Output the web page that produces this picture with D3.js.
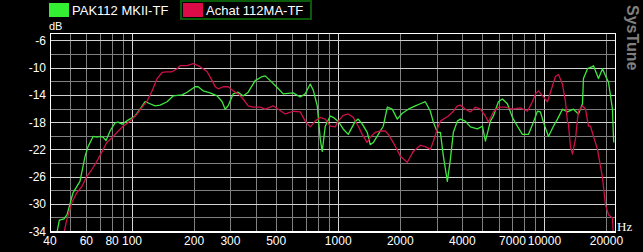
<!DOCTYPE html>
<html>
<head>
<meta charset="utf-8">
<script src="https://cdn.jsdelivr.net/npm/d3@7"></script>
<style>
  html, body { margin: 0; padding: 0; background: #000; }
  svg { display: block; }
</style>
</head>
<body>
<div id="chart"></div>
<script>
// series names
const seriesNames = ["PAK112 MKII-TF", "Achat 112MA-TF"];

// PAK112 MKII-TF (Hz, dB)
const pakFreq = [43, 44.4, 46.8, 48.4, 51.7, 55.9, 59.2, 61.2, 64.7, 67.6, 69.9, 72.3, 74.8, 78.2, 82.7, 85.5, 89.5, 95.6,
  103.4, 109.4, 115.7, 122.3, 129.4, 136.8, 147.9, 158.2, 175, 185, 202.3, 209.2, 221.2, 239.2, 258.7, 273.6, 282.9, 292.5,
  309.3, 327.1, 345.9, 365.8, 395.6, 427.7, 442.3, 467.8, 505.8, 541, 604.8, 654.2, 691.8, 731.6, 756.6, 791.2, 818.2,
  836.7, 865.1, 914.8, 946, 1000, 1057, 1118, 1170, 1210, 1251, 1308, 1383, 1430, 1479, 1564, 1654, 1730, 1829, 1934,
  2046, 2188, 2365, 2502, 2645, 2798, 2893, 3025, 3129, 3236, 3383, 3498, 3618, 3782, 3912, 4136, 4375, 4730, 5004,
  5175, 5473, 5658, 5982, 6255, 6615, 6995, 7396, 7823, 8363, 8845, 9250, 9565, 9891, 10460, 11060, 11570, 12230,
  12940, 13830, 14630, 15300, 15470, 16180, 17100, 17300, 18290, 19130, 19780, 20450, 21380, 21630, 21700];
const pakDb = [-34.6, -32.4, -32.2, -31.6, -28.4, -26.7, -23.0, -21.6, -20.1, -20.2, -20.1, -20.2, -20.7, -19.3, -18.1, -18.0, -18.3, -17.7,
  -17.1, -16.1, -15.0, -15.3, -15.6, -15.5, -15.0, -14.15, -14.0, -13.6, -12.8, -12.8, -13.4, -13.7, -14.15, -15.0, -16.1, -15.6,
  -13.85, -13.6, -14.15, -13.6, -11.9, -11.3, -11.2, -11.9, -12.9, -13.85, -13.7, -14.3, -13.85, -12.4, -13.3, -15.6, -20.5,
  -22.3, -18.6, -17.1, -17.3, -17.9, -19.0, -19.8, -18.7, -17.85, -17.56, -18.3, -19.5, -21.3, -21.0, -19.8, -18.6, -15.8, -16.1, -17.56,
  -16.7, -16.1, -15.6, -15.3, -15.0, -16.4, -18.0, -19.5, -19.5, -23.0, -26.7, -23.5, -19.5, -17.85, -17.56, -17.85, -18.7, -19.0, -18.6,
  -20.8, -17.85, -17.1, -15.0, -14.6, -15.3, -17.3, -18.6, -19.8, -19.8, -18.0, -16.4, -16.5, -18.0, -20.1, -18.6, -17.56, -16.1,
  -16.5, -16.1, -16.8, -15.3, -11.6, -10.15, -9.85, -9.7, -11.6, -10.15, -11.2, -12.1, -16.1, -20.1, -21.0];

// Achat 112MA-TF (Hz, dB)
const achatFreq = [46.5, 48.2, 51.0, 53.9, 57.0, 60.3, 63.7, 67.4, 71.3, 75.4, 81.2, 85.8, 90.5, 97.8, 105.8, 111.9, 118.3,
  125.1, 132.3, 139.9, 147.9, 156.4, 165.4, 171.1, 185, 197.8, 209.2, 221.2, 231.3, 244.6, 253, 261.6, 276.6, 292.5, 309.3,
  327.1, 345.9, 365.8, 386.8, 418.3, 442.3, 467.8, 483.7, 511.6, 553.2, 604.8, 654.2, 691.8, 731.6, 773.7, 818.2, 865.1,
  914.8, 967.3, 1000, 1057, 1118, 1183, 1251, 1308, 1383, 1430, 1513, 1599, 1692, 1749, 1850, 2000, 2163, 2313, 2502,
  2645, 2798, 2893, 3025, 3129, 3420, 3618, 3782, 3912, 4136, 4375, 4625, 4892, 5175, 5352, 5473, 5658, 5982, 6469,
  6995, 7648, 8271, 8746, 9045, 9353, 9891, 10340, 10700, 11310, 11700, 12230, 12650, 12940, 13080, 13380, 13680, 14150,
  14470, 14630, 15300, 15820, 16360, 16730, 17300, 18090, 18710, 19130, 19340, 19780, 20450, 21380, 21630];
const achatDb = [-34.6, -32.4, -29.85, -28.4, -27.5, -26.0, -25.0, -23.8, -22.4, -21.0, -20.1, -19.3, -18.6, -17.85, -16.8, -15.8, -14.9,
  -13.4, -11.6, -10.7, -10.6, -10.6, -10.15, -9.7, -9.7, -9.4, -9.7, -10.15, -10.6, -11.9, -12.8, -13.1, -12.8, -12.8, -13.4,
  -13.85, -14.6, -15.6, -15.8, -15.8, -16.1, -15.8, -15.6, -16.1, -16.8, -16.4, -16.5, -17.85, -18.7, -17.85, -17.3, -17.56,
  -18.6, -18.7, -17.85, -17.0, -16.8, -17.3, -18.6, -19.8, -21.0, -20.2, -19.5, -19.3, -19.3, -19.8, -21.0, -23.0, -23.9, -22.3, -21.4,
  -21.6, -22.0, -20.8, -19.0, -17.85, -17.1, -16.4, -15.6, -15.5, -16.1, -16.5, -15.8, -16.1, -17.1, -18.0, -17.4, -16.5, -15.8, -15.8,
  -16.1, -15.9, -16.4, -15.0, -13.85, -13.4, -14.3, -15.0, -13.6, -11.3, -11.0, -12.4, -15.0, -18.0, -18.3, -21.6, -22.7, -20.5,
  -17.56, -16.4, -15.6, -16.1, -18.6, -18.6, -20.1, -22.0, -24.5, -26.15, -27.5, -30.15, -31.6, -32.1, -35];

// axis ticks
const xTickLabels = [40, 60, 80, 100, 200, 300, 500, 1000, 2000, 4000, 7000, 10000, 20000];
const xGrid = [50, 60, 70, 80, 90, 100, 200, 300, 400, 500, 600, 700, 800, 900,
  1000, 2000, 3000, 4000, 5000, 6000, 7000, 8000, 9000, 10000, 20000];
const xMajor = [100, 1000, 10000];
const yTickLabels = [-6, -10, -14, -18, -22, -26, -30, -34];
const yGrid = [-6, -8, -10, -12, -14, -16, -18, -20, -22, -24, -26, -28, -30, -32];

const W = 643, H = 252;
const margin = { top: 33, right: 28, bottom: 21, left: 50 };
const width = W - margin.left - margin.right,
      height = H - margin.top - margin.bottom;

const font = "'Liberation Sans', Arial, sans-serif";
const green = "#3ee83e", red = "#cc1048";

const svg = d3.select("#chart")
  .append("svg")
  .attr("width", W)
  .attr("height", H)
  .style("background", "#000");

const g = svg.append("g")
  .attr("transform", `translate(${margin.left},${margin.top})`);

const x = d3.scaleLog()
  .domain([40, 22000])
  .range([0, width]);

const y = d3.scaleLinear()
  .domain([-34, -4.9])
  .range([height, 0]);

// grid
g.append("g")
  .selectAll("line")
  .data(xGrid)
  .join("line")
  .attr("x1", d => Math.round(x(d)) + 0.5)
  .attr("x2", d => Math.round(x(d)) + 0.5)
  .attr("y1", 0)
  .attr("y2", height)
  .attr("stroke", d => xMajor.includes(d) ? "#d8d8d8" : "#808080")
  .attr("stroke-width", 1);

g.append("g")
  .selectAll("line")
  .data(yGrid)
  .join("line")
  .attr("x1", 0)
  .attr("x2", width)
  .attr("y1", d => Math.round(y(d)) + 0.5)
  .attr("y2", d => Math.round(y(d)) + 0.5)
  .attr("stroke", d => yTickLabels.includes(d) ? "#d0d0d0" : "#808080")
  .attr("stroke-width", 1);

// curves
svg.append("defs").append("clipPath")
  .attr("id", "plotclip")
  .append("rect")
  .attr("width", width)
  .attr("height", height);

const line = d3.line()
  .x(d => x(d[0]))
  .y(d => y(d[1]));

const series = [
  { name: seriesNames[0], color: green, pts: d3.zip(pakFreq, pakDb) },
  { name: seriesNames[1], color: red, pts: d3.zip(achatFreq, achatDb) }
];

g.append("g")
  .attr("clip-path", "url(#plotclip)")
  .selectAll("path")
  .data(series)
  .join("path")
  .attr("d", d => line(d.pts))
  .attr("fill", "none")
  .attr("stroke", d => d.color)
  .attr("stroke-width", 1.3)
  .attr("stroke-linejoin", "round");

// frame
g.append("rect")
  .attr("x", 0.5)
  .attr("y", 0.5)
  .attr("width", width)
  .attr("height", height)
  .attr("fill", "none")
  .attr("stroke", "#fff");
g.append("line")
  .attr("x1", 0).attr("x2", width + 1)
  .attr("y1", height + 1.5).attr("y2", height + 1.5)
  .attr("stroke", "#fff");

// axis labels
g.append("g")
  .selectAll("text")
  .data(xTickLabels)
  .join("text")
  .attr("x", d => x(d))
  .attr("y", height + 14)
  .attr("text-anchor", "middle")
  .attr("fill", "#fff")
  .style("font", `12px ${font}`)
  .text(d => d);

g.append("g")
  .selectAll("text")
  .data(yTickLabels)
  .join("text")
  .attr("x", -4)
  .attr("y", d => y(d) + 4.5)
  .attr("text-anchor", "end")
  .attr("fill", "#fff")
  .style("font", `12px ${font}`)
  .text(d => d);

svg.append("text")
  .attr("x", margin.left - 1)
  .attr("y", 30)
  .attr("fill", "#fff")
  .style("font", `11px ${font}`)
  .text("dB");

svg.append("text")
  .attr("x", margin.left + width + 2)
  .attr("y", margin.top + height)
  .attr("fill", "#fff")
  .style("font", "13px 'Liberation Serif', 'Times New Roman', serif")
  .text("Hz");

// legend
const legend = [
  { name: seriesNames[0], color: "#33f033", x: 49, frame: false },
  { name: seriesNames[1], color: "#dc0a46", x: 183, frame: true }
];
const lg = svg.append("g")
  .selectAll("g")
  .data(legend)
  .join("g")
  .attr("transform", d => `translate(${d.x},0)`);
lg.filter(d => d.frame)
  .append("rect")
  .attr("x", -2)
  .attr("y", 1)
  .attr("width", 130)
  .attr("height", 18)
  .attr("fill", "none")
  .attr("stroke", "#0a5a0a")
  .attr("stroke-width", 2);
lg.append("rect")
  .attr("x", 0)
  .attr("y", 3)
  .attr("width", 20)
  .attr("height", 14)
  .attr("fill", d => d.color);
lg.append("text")
  .attr("x", 23)
  .attr("y", 15)
  .attr("fill", "#fff")
  .style("font", `13px ${font}`)
  .text(d => d.name);

// watermark
svg.append("text")
  .attr("transform", "translate(627,5) rotate(90)")
  .attr("fill", "#808080")
  .style("font", `bold 16px ${font}`)
  .text("SysTune");
</script>
</body>
</html>
